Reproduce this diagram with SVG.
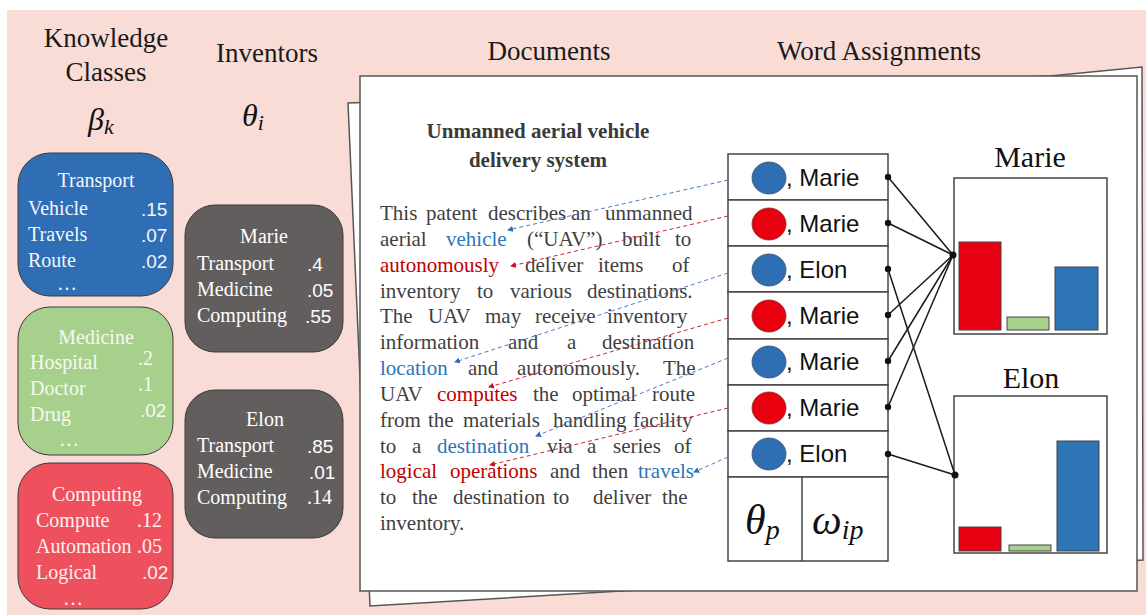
<svg xmlns="http://www.w3.org/2000/svg" width="1146" height="615" viewBox="0 0 1146 615">
<defs>
<style>
.hdr{font-family:"Liberation Serif","Times New Roman",serif;font-size:27px;fill:#1a1a1a;text-anchor:middle}
.math{font-family:"Liberation Serif","Times New Roman",serif;font-style:italic;fill:#111}
.kc{font-family:"Liberation Serif","Times New Roman",serif;font-size:20px}
.kv{font-family:"Liberation Sans",Arial,sans-serif;font-size:19px}
.ttl{font-family:"Liberation Serif","Times New Roman",serif;font-size:21px;font-weight:bold;fill:#3a3a3a;text-anchor:middle}
.body{font-family:"Liberation Serif","Times New Roman",serif;font-size:21px;fill:#3f3f3f}
.bl{fill:#2e75b6}
.rd{fill:#c00000}
.wa{font-family:"Liberation Sans",Arial,sans-serif;font-size:24px;fill:#111}
.cht{font-family:"Liberation Serif","Times New Roman",serif;font-size:30px;fill:#111;text-anchor:middle}
.cell{fill:#fff;stroke:#444;stroke-width:1.5}
.dashb{stroke:#4a78c8;stroke-width:1;stroke-dasharray:4 3;fill:none}
.dashr{stroke:#d02030;stroke-width:1;stroke-dasharray:4 3;fill:none}
.link{stroke:#1a1a1a;stroke-width:1.5;fill:none}
</style>
<marker id="ab" viewBox="0 0 6 6" refX="5" refY="3" markerWidth="6" markerHeight="6" markerUnits="userSpaceOnUse" orient="auto"><path d="M0,0 L6,3 L0,6 z" fill="#2e6fc0"/></marker>
<marker id="ar" viewBox="0 0 6 6" refX="5" refY="3" markerWidth="6" markerHeight="6" markerUnits="userSpaceOnUse" orient="auto"><path d="M0,0 L6,3 L0,6 z" fill="#c8102e"/></marker>
</defs>

<rect x="0" y="0" width="1146" height="615" fill="#ffffff"/>
<rect x="7" y="10" width="1139" height="605" fill="#f9dcd5"/>

<g id="headers">
<text class="hdr" x="106" y="47">Knowledge</text>
<text class="hdr" x="106" y="81">Classes</text>
<text class="hdr" x="267" y="62">Inventors</text>
<text class="hdr" x="549" y="60">Documents</text>
<text class="hdr" x="879" y="60">Word Assignments</text>
<text class="math" x="88" y="130" font-size="32">β<tspan font-size="22" dy="4">k</tspan></text>
<text class="math" x="242" y="126" font-size="32">θ<tspan font-size="22" dy="4">i</tspan></text>
</g>

<g id="class-transport">
<rect x="18" y="153" width="155" height="143" rx="32" fill="#2f6eb5" stroke="#3a3a3a" stroke-width="1"/>
<g fill="#f2f6ff">
<text class="kc" x="96" y="187" text-anchor="middle">Transport</text>
<text class="kc" x="28" y="215">Vehicle</text><text class="kv" x="141" y="216">.15</text>
<text class="kc" x="28" y="241">Travels</text><text class="kv" x="141" y="242">.07</text>
<text class="kc" x="28" y="267">Route</text><text class="kv" x="141" y="268">.02</text>
<text class="kc" x="67" y="290" text-anchor="middle">…</text>
</g>
</g>

<g id="class-medicine">
<rect x="18" y="307" width="155" height="148" rx="32" fill="#a8d08d" stroke="#3a3a3a" stroke-width="1"/>
<g fill="#f4fbee">
<text class="kc" x="96" y="344" text-anchor="middle">Medicine</text>
<text class="kc" x="30" y="369">Hospital</text><text class="kc" x="138" y="365">.2</text>
<text class="kc" x="30" y="395">Doctor</text><text class="kc" x="138" y="391">.1</text>
<text class="kc" x="30" y="421">Drug</text><text class="kv" x="140" y="417">.02</text>
<text class="kc" x="69" y="446" text-anchor="middle">…</text>
</g>
</g>

<g id="class-computing">
<rect x="18" y="463" width="155" height="146" rx="32" fill="#ef505d" stroke="#3a3a3a" stroke-width="1"/>
<g fill="#fdf0f0">
<text class="kc" x="97" y="501" text-anchor="middle">Computing</text>
<text class="kc" x="36" y="527">Compute</text><text class="kc" x="137" y="527">.12</text>
<text class="kc" x="36" y="553">Automation</text><text class="kc" x="137" y="553">.05</text>
<text class="kc" x="36" y="579">Logical</text><text class="kv" x="142" y="579">.02</text>
<text class="kc" x="73" y="605" text-anchor="middle">…</text>
</g>
</g>

<g id="inventor-marie">
<rect x="185" y="205" width="158" height="147" rx="30" fill="#625e5e" stroke="#3a3a3a" stroke-width="1"/>
<g fill="#ffffff">
<text class="kc" x="264" y="243" text-anchor="middle">Marie</text>
<text class="kc" x="197" y="270">Transport</text><text class="kv" x="307" y="271">.4</text>
<text class="kc" x="197" y="296">Medicine</text><text class="kv" x="307" y="297">.05</text>
<text class="kc" x="197" y="322">Computing</text><text class="kv" x="305" y="323">.55</text>
</g>
</g>

<g id="inventor-elon">
<rect x="185" y="390" width="158" height="148" rx="30" fill="#625e5e" stroke="#3a3a3a" stroke-width="1"/>
<g fill="#ffffff">
<text class="kc" x="265" y="426" text-anchor="middle">Elon</text>
<text class="kc" x="197" y="452">Transport</text><text class="kv" x="307" y="453">.85</text>
<text class="kc" x="197" y="478">Medicine</text><text class="kv" x="309" y="479">.01</text>
<text class="kc" x="197" y="504">Computing</text><text class="kc" x="307" y="504">.14</text>
</g>
</g>

<g id="document">
<polygon points="348,103 1050,76 1142,67 1143,560 370,606" fill="#ffffff" stroke="#555" stroke-width="1.5"/>
<rect x="360" y="76" width="777" height="515" fill="#ffffff" stroke="#555" stroke-width="1.5"/>
<text class="ttl" x="538" y="138">Unmanned aerial vehicle</text>
<text class="ttl" x="538" y="167">delivery system</text>
<g class="body">
<text y="220"><tspan x="380">This</tspan><tspan x="426">patent</tspan><tspan x="488">describes</tspan><tspan x="571">an</tspan><tspan x="605">unmanned</tspan></text>
<text y="246"><tspan x="380">aerial</tspan><tspan x="446" class="bl">vehicle</tspan><tspan x="527">(“UAV”)</tspan><tspan x="622">built</tspan><tspan x="675">to</tspan></text>
<text y="272"><tspan x="380" class="rd">autonomously</tspan><tspan x="525">deliver</tspan><tspan x="598">items</tspan><tspan x="672">of</tspan></text>
<text y="298"><tspan x="380">inventory</tspan><tspan x="477">to</tspan><tspan x="510">various</tspan><tspan x="587">destinations.</tspan></text>
<text y="323"><tspan x="380">The</tspan><tspan x="428">UAV</tspan><tspan x="485">may</tspan><tspan x="535">receive</tspan><tspan x="607">inventory</tspan></text>
<text y="349"><tspan x="380">information</tspan><tspan x="508">and</tspan><tspan x="567">a</tspan><tspan x="602">destination</tspan></text>
<text y="375"><tspan x="380" class="bl">location</tspan><tspan x="468">and</tspan><tspan x="517">autonomously.</tspan><tspan x="663">The</tspan></text>
<text y="401"><tspan x="380">UAV</tspan><tspan x="437" class="rd">computes</tspan><tspan x="533">the</tspan><tspan x="572">optimal</tspan><tspan x="652">route</tspan></text>
<text y="427"><tspan x="380">from</tspan><tspan x="428">the</tspan><tspan x="463">materials</tspan><tspan x="553">handling</tspan><tspan x="633">facility</tspan></text>
<text y="453"><tspan x="380">to</tspan><tspan x="412">a</tspan><tspan x="437" class="bl">destination</tspan><tspan x="547">via</tspan><tspan x="587">a</tspan><tspan x="613">series</tspan><tspan x="674">of</tspan></text>
<text y="478"><tspan x="380" class="rd">logical</tspan><tspan x="450" class="rd">operations</tspan><tspan x="550">and</tspan><tspan x="592">then</tspan><tspan x="638" class="bl">travels</tspan></text>
<text y="504"><tspan x="380">to</tspan><tspan x="412">the</tspan><tspan x="453">destination</tspan><tspan x="553">to</tspan><tspan x="593">deliver</tspan><tspan x="662">the</tspan></text>
<text y="530"><tspan x="380">inventory.</tspan></text>
</g>
</g>

<g id="word-table">
<rect class="cell" x="728" y="154" width="160" height="46"/>
<rect class="cell" x="728" y="200" width="160" height="46"/>
<rect class="cell" x="728" y="246" width="160" height="46"/>
<rect class="cell" x="728" y="292" width="160" height="47"/>
<rect class="cell" x="728" y="339" width="160" height="46"/>
<rect class="cell" x="728" y="385" width="160" height="46"/>
<rect class="cell" x="728" y="431" width="160" height="46"/>
<rect class="cell" x="728" y="477" width="160" height="84"/>
<line x1="802" y1="477" x2="802" y2="561" stroke="#444" stroke-width="1.5"/>
<ellipse cx="769" cy="178" rx="17" ry="16" fill="#2e6fb3" stroke="#3a4a6a" stroke-width="0.8"/>
<ellipse cx="769" cy="224" rx="17" ry="16" fill="#e8000e" stroke="#8a2a2a" stroke-width="0.8"/>
<ellipse cx="769" cy="270" rx="17" ry="16" fill="#2e6fb3" stroke="#3a4a6a" stroke-width="0.8"/>
<ellipse cx="769" cy="316" rx="17" ry="16" fill="#e8000e" stroke="#8a2a2a" stroke-width="0.8"/>
<ellipse cx="769" cy="362" rx="17" ry="16" fill="#2e6fb3" stroke="#3a4a6a" stroke-width="0.8"/>
<ellipse cx="769" cy="408" rx="17" ry="16" fill="#e8000e" stroke="#8a2a2a" stroke-width="0.8"/>
<ellipse cx="769" cy="454" rx="17" ry="16" fill="#2e6fb3" stroke="#3a4a6a" stroke-width="0.8"/>
<text class="wa" x="786" y="186">, Marie</text>
<text class="wa" x="786" y="232">, Marie</text>
<text class="wa" x="786" y="278">, Elon</text>
<text class="wa" x="786" y="324">, Marie</text>
<text class="wa" x="786" y="370">, Marie</text>
<text class="wa" x="786" y="416">, Marie</text>
<text class="wa" x="786" y="462">, Elon</text>
<text class="math" x="745" y="534" font-size="42">θ<tspan font-size="28" dy="5">p</tspan></text>
<text class="math" x="812" y="534" font-size="42">ω<tspan font-size="28" dy="5">ip</tspan></text>
</g>

<g id="chart-marie">
<text class="cht" x="1030" y="167">Marie</text>
<rect x="954" y="178" width="153" height="156" fill="#fff" stroke="#444" stroke-width="1.5"/>
<rect x="959" y="242" width="42" height="88" fill="#e60012" stroke="#444" stroke-width="1"/>
<rect x="1007" y="317" width="42" height="13" fill="#a9d18e" stroke="#444" stroke-width="1"/>
<rect x="1055" y="267" width="43" height="63" fill="#2e75b6" stroke="#444" stroke-width="1"/>
</g>

<g id="chart-elon">
<text class="cht" x="1031" y="388">Elon</text>
<rect x="954" y="396" width="153" height="157" fill="#fff" stroke="#444" stroke-width="1.5"/>
<rect x="959" y="527" width="42" height="24" fill="#e60012" stroke="#444" stroke-width="1"/>
<rect x="1009" y="545" width="42" height="6" fill="#a9d18e" stroke="#444" stroke-width="1"/>
<rect x="1057" y="441" width="42" height="110" fill="#2e75b6" stroke="#444" stroke-width="1"/>
</g>

<g id="connectors">
<line class="dashb" x1="728" y1="180" x2="508" y2="230" marker-end="url(#ab)"/>
<line class="dashr" x1="728" y1="216" x2="511" y2="266" marker-end="url(#ar)"/>
<line class="dashb" x1="728" y1="273" x2="455" y2="362" marker-end="url(#ab)"/>
<line class="dashr" x1="728" y1="318" x2="489" y2="387" marker-end="url(#ar)"/>
<line class="dashb" x1="728" y1="358" x2="536" y2="436" marker-end="url(#ab)"/>
<line class="dashr" x1="728" y1="408" x2="490" y2="465" marker-end="url(#ar)"/>
<line class="dashb" x1="728" y1="457" x2="694" y2="472" marker-end="url(#ab)"/>
<line class="link" x1="888" y1="177" x2="953" y2="255"/>
<line class="link" x1="888" y1="223" x2="953" y2="255"/>
<line class="link" x1="888" y1="315" x2="953" y2="255"/>
<line class="link" x1="888" y1="361" x2="953" y2="255"/>
<line class="link" x1="888" y1="407" x2="953" y2="255"/>
<line class="link" x1="888" y1="269" x2="955" y2="475"/>
<line class="link" x1="888" y1="454" x2="955" y2="475"/>
<g fill="#111">
<circle cx="888" cy="177" r="3.2"/><circle cx="888" cy="223" r="3.2"/><circle cx="888" cy="269" r="3.2"/>
<circle cx="888" cy="315" r="3.2"/><circle cx="888" cy="361" r="3.2"/><circle cx="888" cy="407" r="3.2"/>
<circle cx="888" cy="454" r="3.2"/><circle cx="953" cy="255" r="3.5"/><circle cx="955" cy="475" r="3.5"/>
</g>
</g>
</svg>
